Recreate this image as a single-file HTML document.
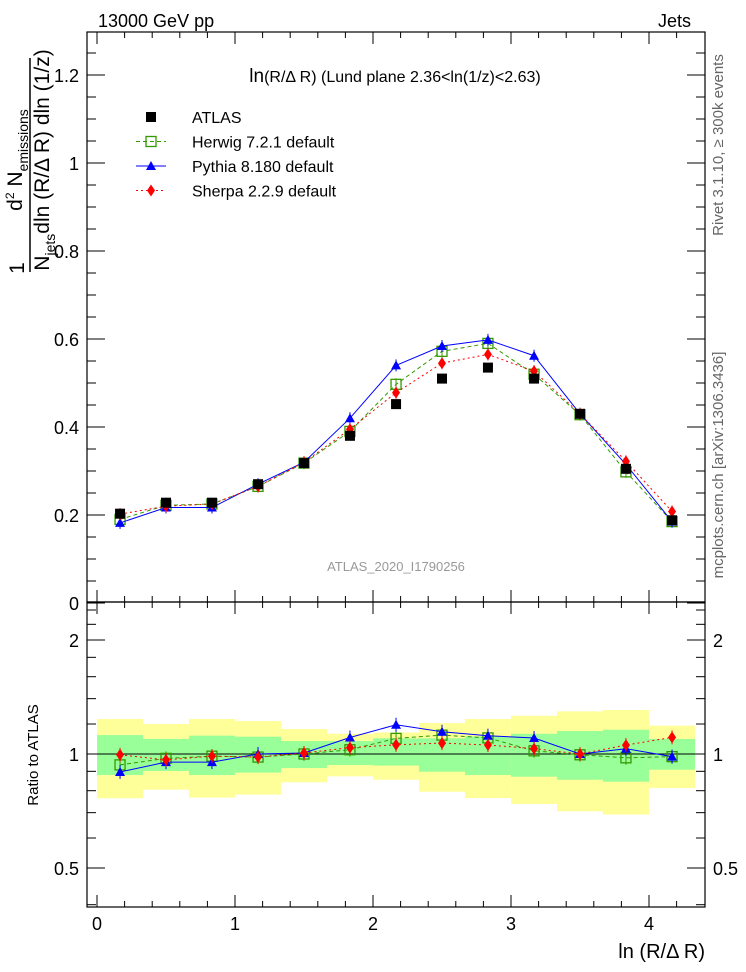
<!DOCTYPE html>
<html><head><meta charset="utf-8"><style>
body{margin:0;background:#fff}
svg{display:block;font-family:"Liberation Sans",Arial,sans-serif}
</style></head><body>
<svg id="c" width="746" height="972" viewBox="0 0 746 972" xmlns="http://www.w3.org/2000/svg">
<rect width="746" height="972" fill="#fff"/>
<g id="bands"></g>
<g id="frames" fill="none" stroke="#000" stroke-width="1.2">
<rect x="87" y="32" width="618" height="570"/>
<rect x="87" y="602" width="618" height="305"/>
</g>
<g id="ticks" stroke="#000" stroke-width="1"></g>
<g id="marks"></g>
<text x="98" y="27" font-size="18">13000 GeV pp</text>
<text x="691" y="27" font-size="18" text-anchor="end">Jets</text>
<text x="395" y="82" font-size="16" text-anchor="middle"><tspan font-size="19">ln</tspan>(R/Δ R) (Lund plane 2.36&lt;ln(1/z)&lt;2.63)</text>
<text x="396" y="571" font-size="13" fill="#999" text-anchor="middle">ATLAS_2020_I1790256</text>
<text transform="translate(723,145) rotate(-90)" font-size="15" fill="#666" text-anchor="middle">Rivet 3.1.10, ≥ 300k events</text>
<text transform="translate(723,465) rotate(-90)" font-size="15" fill="#666" text-anchor="middle">mcplots.cern.ch [arXiv:1306.3436]</text>
<text transform="translate(38,755) rotate(-90)" font-size="15" text-anchor="middle">Ratio to ATLAS</text>
<text x="705" y="958" font-size="20" text-anchor="end">ln (R/Δ R)</text>
<g font-size="21">
<text transform="translate(24,268) rotate(-90)" text-anchor="middle">1</text>
<line x1="30" y1="58" x2="30" y2="272" stroke="#000" stroke-width="1.5"/>
<text transform="translate(22,160) rotate(-90)" text-anchor="middle" font-size="21">d<tspan font-size="12" dy="-8">2</tspan><tspan dy="8"> N</tspan><tspan font-size="14" dy="6">emissions</tspan></text>
<text transform="translate(49,160) rotate(-90)" text-anchor="middle" font-size="21">N<tspan font-size="14" dy="6">jets</tspan><tspan dy="-6">dln (R/Δ R) dln (1/z)</tspan></text>
</g>
<g id="legend" font-size="16"></g>
</svg>
<script>
const xCenters=[0.167,0.5,0.833,1.167,1.5,1.833,2.167,2.5,2.833,3.167,3.5,3.833,4.167];
const atlas=[0.203,0.228,0.228,0.27,0.318,0.38,0.452,0.51,0.535,0.51,0.43,0.305,0.188];
const herwig=[0.19,0.222,0.225,0.265,0.318,0.39,0.497,0.572,0.59,0.52,0.428,0.298,0.185];
const pythia=[0.182,0.217,0.217,0.27,0.32,0.42,0.54,0.584,0.598,0.562,0.43,0.315,0.185];
const sherpa=[0.202,0.22,0.225,0.265,0.32,0.395,0.478,0.545,0.565,0.527,0.43,0.322,0.208];
const yellowHi=[1.237,1.20,1.237,1.222,1.164,1.131,1.14,1.207,1.237,1.262,1.296,1.307,1.188];
const yellowLo=[0.764,0.805,0.767,0.781,0.842,0.873,0.855,0.795,0.765,0.738,0.706,0.692,0.813];
const greenHi=[1.122,1.096,1.118,1.111,1.082,1.082,1.10,1.10,1.113,1.131,1.15,1.159,1.096];
const greenLo=[0.88,0.902,0.88,0.893,0.918,0.935,0.932,0.898,0.88,0.871,0.855,0.845,0.909];
const mainTicks=[0,0.2,0.4,0.6,0.8,1,1.2];
const ratioTicks=[0.5,1,2];
const xTicks=[0,1,2,3,4];
const binHalf=1/6;
const NS="http://www.w3.org/2000/svg";
const X=v=>97+v*138;
const Y=v=>603-v*440;
const R=v=>754-Math.log2(v)*114;
function mk(p,t,a){const e=document.createElementNS(NS,t);for(const k in a)e.setAttribute(k,a[k]);p.appendChild(e);return e;}
const bands=document.getElementById('bands'),ticks=document.getElementById('ticks'),marks=document.getElementById('marks'),legend=document.getElementById('legend'),svg=document.getElementById('c');
xCenters.forEach((c,i)=>{
 let r=mk(bands,'rect',{x:X(c-binHalf),y:R(yellowHi[i]),width:X(c+binHalf)-X(c-binHalf),height:R(yellowLo[i])-R(yellowHi[i]),fill:'#ffff99'});
 
 
 let g=mk(bands,'rect',{x:X(c-binHalf),y:R(greenHi[i]),width:X(c+binHalf)-X(c-binHalf),height:R(greenLo[i])-R(greenHi[i]),fill:'#99ff99'});
 
 
});
mk(bands,'line',{x1:87,x2:705,y1:R(1),y2:R(1),stroke:'#000','stroke-width':1});
for(let v=-0.0;v<=4.4;v+=0.2){const vv=Math.round(v*10)/10;const maj=Math.abs(vv-Math.round(vv))<1e-6;const L=maj?12:6;
 [[602,-1],[907,-1],[32,1],[602,1]].forEach(([y,d])=>mk(ticks,'line',{x1:X(vv),x2:X(vv),y1:y,y2:y+d*L}));}
xTicks.forEach(v=>{const t=mk(svg,'text',{x:X(v),y:930,'font-size':18,'text-anchor':'middle'});t.textContent=v;
 
 });
for(let v=0;v<=1.3;v+=0.05){const vv=Math.round(v*100)/100;const maj=Math.abs(vv*5-Math.round(vv*5))<1e-6;const L=maj?18:9;const y=Y(vv);if(y<32)continue;
 mk(ticks,'line',{x1:87,x2:87+L,y1:y,y2:y});mk(ticks,'line',{x1:705,x2:705-L,y1:y,y2:y});}
mainTicks.forEach(v=>{const t=mk(svg,'text',{x:79,y:Y(v)+7,'font-size':18,'text-anchor':'end'});t.textContent=v===0?'0':v.toFixed(1).replace(/\.0$/,'');
 
 });
[0.4,0.5,0.6,0.7,0.8,0.9,1,1.2,1.4,1.6,1.8,2,2.2,2.4].forEach(v=>{const maj=ratioTicks.includes(v);const L=maj?18:9;const y=R(v);
 mk(ticks,'line',{x1:87,x2:87+L,y1:y,y2:y});mk(ticks,'line',{x1:705,x2:705-L,y1:y,y2:y});});
ratioTicks.forEach(v=>{[[79,'end'],[713,'start']].forEach(([x,a])=>{const t=mk(svg,'text',{x:x,y:R(v)+7,'font-size':18,'text-anchor':a});t.textContent=v;
 
 });});
const series=[
 {name:'herwig',vals:herwig,col:'#339900',dash:'4,3',mark:'square',label:'Herwig 7.2.1 default'},
 {name:'pythia',vals:pythia,col:'#0000ff',dash:'',mark:'tri',label:'Pythia 8.180 default'},
 {name:'sherpa',vals:sherpa,col:'#ff0000',dash:'2,3',mark:'diamond',label:'Sherpa 2.2.9 default'}];
function marker(g,type,x,y,col){
 if(type==='square')mk(g,'rect',{x:x-5,y:y-5,width:10,height:10,fill:'none',stroke:col,'stroke-width':1.3});
 else if(type==='tri')mk(g,'polygon',{points:`${x},${y-5} ${x-5},${y+4} ${x+5},${y+4}`,fill:col});
 else if(type==='diamond')mk(g,'polygon',{points:`${x},${y-6} ${x-4},${y} ${x},${y+6} ${x+4},${y}`,fill:col});
 else mk(g,'rect',{x:x-5,y:y-5,width:10,height:10,fill:'#000'});}
series.forEach(s=>{
 const g=mk(marks,'g',{});
 
 
 mk(g,'polyline',{points:xCenters.map((c,i)=>X(c)+','+Y(s.vals[i])).join(' '),fill:'none',stroke:s.col,'stroke-dasharray':s.dash,'stroke-width':1});
 mk(g,'polyline',{points:xCenters.map((c,i)=>X(c)+','+R(s.vals[i]/atlas[i])).join(' '),fill:'none',stroke:s.col,'stroke-dasharray':s.dash,'stroke-width':1});
 xCenters.forEach((c,i)=>{
  mk(g,'line',{x1:X(c),x2:X(c),y1:Y(s.vals[i])-6,y2:Y(s.vals[i])+6,stroke:s.col});
  mk(g,'line',{x1:X(c),x2:X(c),y1:R(s.vals[i]/atlas[i])-7,y2:R(s.vals[i]/atlas[i])+7,stroke:s.col});
  marker(g,s.mark,X(c),Y(s.vals[i]),s.col);marker(g,s.mark,X(c),R(s.vals[i]/atlas[i]),s.col);});
});
const ga=mk(marks,'g',{});


xCenters.forEach((c,i)=>marker(ga,'data',X(c),Y(atlas[i]),'#000'));
const leg=[{label:'ATLAS',mark:'data',col:'#000',dash:null}].concat(series);
leg.forEach((s,i)=>{const y=117+i*24.5;const g=mk(legend,'g',{});
 
 
 if(s.dash!==null)mk(g,'line',{x1:136,x2:166,y1:y,y2:y,stroke:s.col,'stroke-dasharray':s.dash});
 marker(g,s.mark,151,y,s.col);
 const t=mk(g,'text',{x:192,y:y+6});t.textContent=s.label;});
</script>
</body></html>
